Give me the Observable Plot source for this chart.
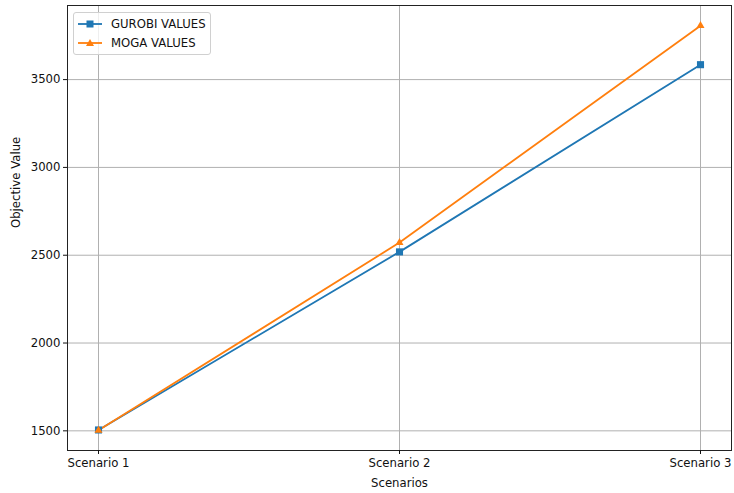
<!DOCTYPE html>
<html>
<head>
<meta charset="utf-8">
<script src="https://cdn.jsdelivr.net/npm/d3@7"></script>
<script src="https://cdn.jsdelivr.net/npm/@observablehq/plot@0.6"></script>
<style>
  html, body { margin: 0; padding: 0; background: #fff; }
  #wrap { position: relative; width: 734px; height: 493px; font-family: "DejaVu Sans", sans-serif; }
  #legend { position: absolute; left: 73px; top: 12px; width: 138px; height: 43px; border: 1px solid #d0d0d0; border-radius: 3px; background: rgba(255,255,255,0.8); box-sizing: border-box; font-size: 11.7px; color: #111; }
  .row { position: absolute; left: 4px; height: 14px; display: flex; align-items: center; }
  .row svg { margin-right: 9px; }
</style>
</head>
<body>
<div id="wrap">
  <div id="chart"></div>
  <div id="legend"></div>
</div>
<script>
const scenarios = ["Scenario 1", "Scenario 2", "Scenario 3"];
const gurobiValues = [1505, 2519, 3585];
const mogaValues = [1503, 2572, 3807];
const yTicks = [1500, 2000, 2500, 3000, 3500];
const seriesNames = ["GUROBI VALUES", "MOGA VALUES"];
const seriesColors = ["#1f77b4", "#ff7f0e"];

const data = [
  ...scenarios.map((s, i) => ({scenario: s, value: gurobiValues[i], series: seriesNames[0]})),
  ...scenarios.map((s, i) => ({scenario: s, value: mogaValues[i], series: seriesNames[1]}))
];

const chart = Plot.plot({
  width: 734,
  height: 493,
  marginLeft: 67,
  marginRight: 3,
  marginTop: 5,
  marginBottom: 43,
  style: {fontFamily: "DejaVu Sans, sans-serif", fontSize: "11.7px", color: "#111", background: "#fff"},
  x: {type: "point", domain: scenarios, padding: 0.1, label: null},
  y: {domain: [1388, 3922], label: null},
  color: {domain: seriesNames, range: seriesColors},
  marks: [
    Plot.gridX(scenarios, {stroke: "#b0b0b0", strokeOpacity: 1, strokeWidth: 1}),
    Plot.gridY(yTicks, {stroke: "#b0b0b0", strokeOpacity: 1, strokeWidth: 1}),
    Plot.line(data, {x: "scenario", y: "value", z: "series", stroke: "series", strokeWidth: 1.8}),
    Plot.dot(data.filter(d => d.series === seriesNames[0]), {x: "scenario", y: "value", symbol: "square", r: 4, fill: seriesColors[0], stroke: "none"}),
    Plot.dot(data.filter(d => d.series === seriesNames[1]), {x: "scenario", y: "value", symbol: "triangle", r: 3, fill: seriesColors[1], stroke: "none"}),
    Plot.frame({stroke: "#222", strokeWidth: 1}),
    Plot.axisY(yTicks, {tickSize: 4, tickPadding: 3, label: null, fontSize: 11.7, tickFormat: d => String(d)}),
    Plot.axisX(scenarios, {tickSize: 4, tickPadding: 4, label: null, fontSize: 11.7}),
    Plot.text(["Scenarios"], {frameAnchor: "bottom", dy: 36, fontSize: 11.7, fill: "#111"}),
    Plot.text(["Objective Value"], {frameAnchor: "left", dx: -51, rotate: -90, fontSize: 11.7, fill: "#111"})
  ]
});
document.getElementById("chart").appendChild(chart);

const legend = document.getElementById("legend");
const markers = [
  '<rect x="8.5" y="3.5" width="7" height="7" fill="' + seriesColors[0] + '"/>',
  '<path d="M12,3 L16,10 L8,10 Z" fill="' + seriesColors[1] + '"/>'
];
seriesNames.forEach((name, i) => {
  const row = document.createElement("div");
  row.className = "row";
  row.style.top = (4 + i * 19) + "px";
  row.innerHTML = '<svg width="24" height="14"><line x1="0" x2="24" y1="7" y2="7" stroke="' + seriesColors[i] + '" stroke-width="1.8"/>' + markers[i] + '</svg><span>' + name + '</span>';
  legend.appendChild(row);
});
</script>
</body>
</html>
